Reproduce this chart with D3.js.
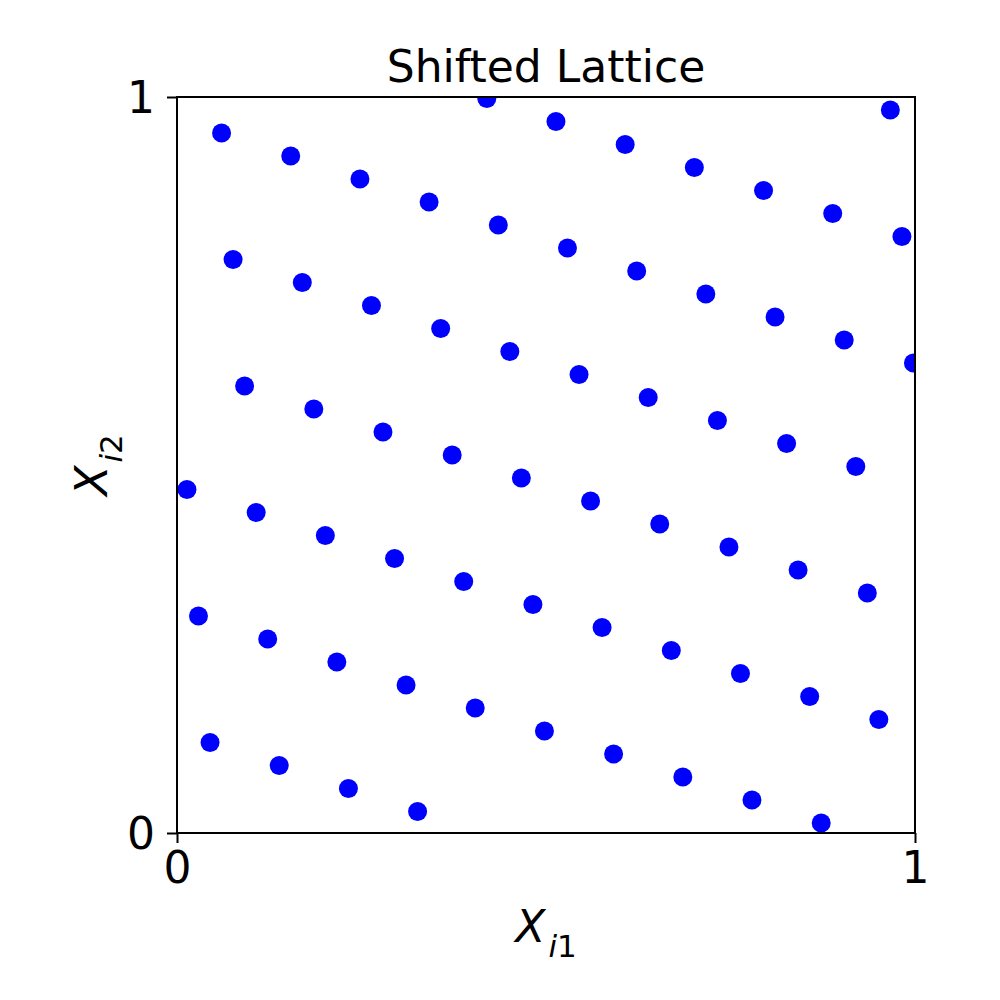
<!DOCTYPE html>
<html>
<head>
<meta charset="utf-8">
<script src="https://cdn.jsdelivr.net/npm/d3@7"></script>
<style>
  html, body { margin: 0; padding: 0; background: #fff; }
  svg { display: block; }
  text { font-family: "DejaVu Sans", sans-serif; fill: #000; }
</style>
</head>
<body>
<svg id="chart" width="1000" height="1000"></svg>
<script>
// Point coordinates (64 points)
const xValues = [
  0.0135, 0.0291, 0.0448, 0.0604, 0.0760, 0.0916, 0.1073, 0.1229,
  0.1385, 0.1541, 0.1698, 0.1854, 0.2010, 0.2166, 0.2323, 0.2479,
  0.2635, 0.2791, 0.2948, 0.3104, 0.3260, 0.3416, 0.3573, 0.3729,
  0.3885, 0.4041, 0.4198, 0.4354, 0.4510, 0.4666, 0.4823, 0.4979,
  0.5135, 0.5291, 0.5448, 0.5604, 0.5760, 0.5916, 0.6073, 0.6229,
  0.6385, 0.6541, 0.6698, 0.6854, 0.7010, 0.7166, 0.7323, 0.7479,
  0.7635, 0.7791, 0.7948, 0.8104, 0.8260, 0.8416, 0.8573, 0.8729,
  0.8885, 0.9041, 0.9198, 0.9354, 0.9510, 0.9666, 0.9823, 0.9979
];
const yValues = [
  0.4666, 0.2948, 0.1229, 0.9510, 0.7791, 0.6073, 0.4354, 0.2635,
  0.0916, 0.9198, 0.7479, 0.5760, 0.4041, 0.2323, 0.0604, 0.8885,
  0.7166, 0.5448, 0.3729, 0.2010, 0.0291, 0.8573, 0.6854, 0.5135,
  0.3416, 0.1698, 0.9979, 0.8260, 0.6541, 0.4823, 0.3104, 0.1385,
  0.9666, 0.7948, 0.6229, 0.4510, 0.2791, 0.1073, 0.9354, 0.7635,
  0.5916, 0.4198, 0.2479, 0.0760, 0.9041, 0.7323, 0.5604, 0.3885,
  0.2166, 0.0448, 0.8729, 0.7010, 0.5291, 0.3573, 0.1854, 0.0135,
  0.8416, 0.6698, 0.4979, 0.3260, 0.1541, 0.9823, 0.8104, 0.6385
];
const xTicks = [0, 1];
const yTicks = [0, 1];
const titleText = "Shifted Lattice";

const margin = { left: 177, top: 97, right: 85, bottom: 167 };
const W = 1000, H = 1000;
const iw = W - margin.left - margin.right;   // 738
const ih = H - margin.top - margin.bottom;   // 736

const svg = d3.select("#chart");
const g = svg.append("g").attr("transform", `translate(${margin.left},${margin.top})`);

const x = d3.scaleLinear().domain([0, 1]).range([0, iw]);
const y = d3.scaleLinear().domain([0, 1]).range([ih, 0]);

svg.append("defs").append("clipPath").attr("id", "plotclip")
  .append("rect").attr("x", 0).attr("y", 0).attr("width", iw).attr("height", ih);

const pts = xValues.map((v, i) => ({ x: v, y: yValues[i] }));

g.append("g").attr("clip-path", "url(#plotclip)")
  .selectAll("circle").data(pts).enter().append("circle")
  .attr("cx", d => x(d.x))
  .attr("cy", d => y(d.y))
  .attr("r", 9.5)
  .attr("fill", "#0000ff");

// frame
g.append("rect").attr("x", 0).attr("y", 0).attr("width", iw).attr("height", ih)
  .attr("fill", "none").attr("stroke", "#000").attr("stroke-width", 2);

const fontSize = 44;

const xAxis = d3.axisBottom(x).tickValues(xTicks).tickFormat(d3.format("d"))
  .tickSize(10).tickPadding(10);
const gx = g.append("g").attr("transform", `translate(0,${ih})`).call(xAxis);
gx.select(".domain").remove();
gx.selectAll("line").attr("stroke", "#000").attr("stroke-width", 2);
gx.selectAll("text").attr("font-size", fontSize).attr("font-family", "DejaVu Sans")
  .attr("dy", "0.76em").attr("y", 17);

const yAxis = d3.axisLeft(y).tickValues(yTicks).tickFormat(d3.format("d"))
  .tickSize(10).tickPadding(12);
const gy = g.append("g").call(yAxis);
gy.select(".domain").remove();
gy.selectAll("line").attr("stroke", "#000").attr("stroke-width", 2);
gy.selectAll("text").attr("font-size", fontSize).attr("font-family", "DejaVu Sans")
  .attr("dy", "0.36em");

// title
svg.append("text")
  .attr("x", margin.left + iw / 2).attr("y", 82)
  .attr("text-anchor", "middle").attr("font-size", fontSize)
  .text(titleText);

// axis labels with subscripts
function mathLabel(sel, sub) {
  sel.append("tspan").attr("font-style", "italic").text("X");
  sel.append("tspan").attr("font-size", 31).attr("dy", 15).attr("dx", 3)
    .attr("font-style", "italic").text("i");
  sel.append("tspan").attr("font-size", 31).text(sub);
}
const xl = svg.append("text")
  .attr("x", margin.left + iw / 2).attr("y", 942)
  .attr("text-anchor", "middle").attr("font-size", fontSize);
mathLabel(xl, "1");

const yl = svg.append("text")
  .attr("transform", `translate(107,${margin.top + ih / 2}) rotate(-90)`)
  .attr("text-anchor", "middle").attr("font-size", fontSize);
mathLabel(yl, "2");
</script>
</body>
</html>
